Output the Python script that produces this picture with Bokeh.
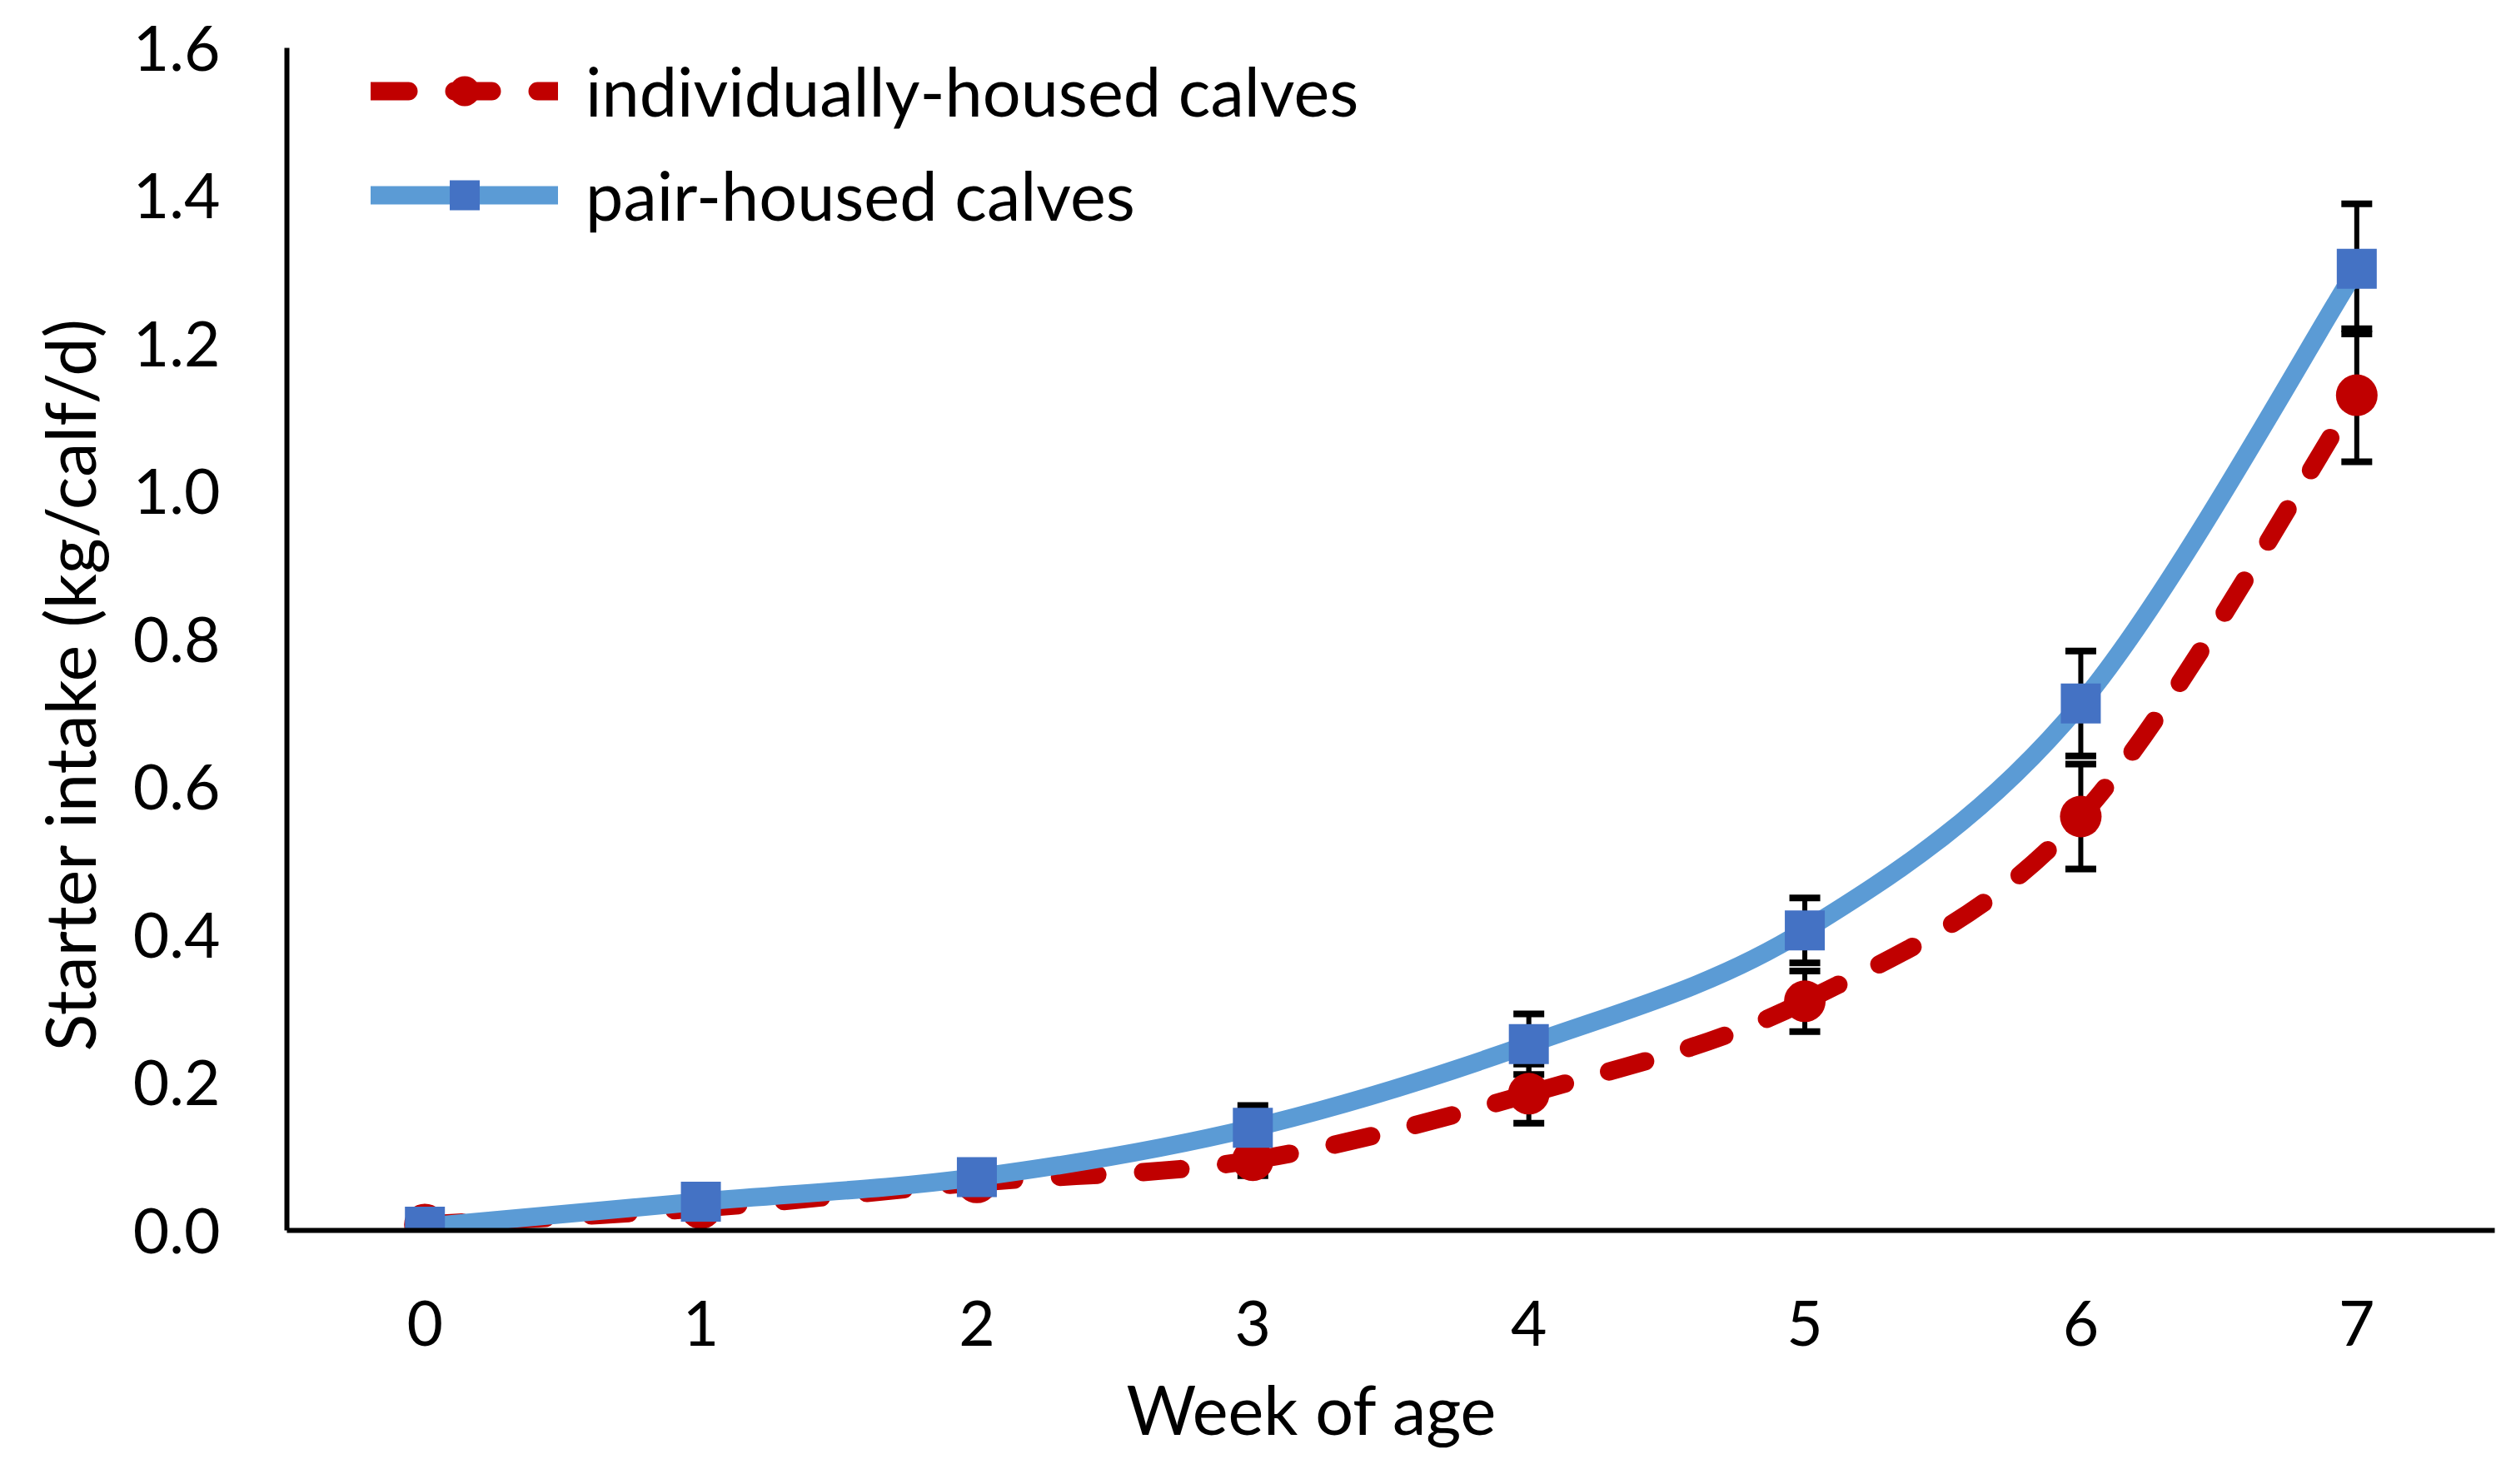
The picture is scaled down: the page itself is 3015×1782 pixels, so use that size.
import numpy as np
from bokeh.plotting import figure
from bokeh.models import (Range1d, FixedTicker, PrintfTickFormatter, Whisker, TeeHead,
                          ColumnDataSource, Legend, LegendItem, Title)
from bokeh.embed import file_html
from bokeh.resources import INLINE

# ---- data ----
weeks = [0, 1, 2, 3, 4, 5, 6, 7]
week_labels = ["0", "1", "2", "3", "4", "5", "6", "7"]
individual = [0.008, 0.030, 0.065, 0.095, 0.185, 0.310, 0.560, 1.130]
individual_se = [0.005, 0.008, 0.010, 0.021, 0.040, 0.041, 0.071, 0.090]
pair = [0.005, 0.039, 0.072, 0.139, 0.252, 0.406, 0.713, 1.301]
pair_se = [0.005, 0.008, 0.010, 0.030, 0.041, 0.044, 0.071, 0.088]
y_ticks = [0.0, 0.2, 0.4, 0.6, 0.8, 1.0, 1.2, 1.4, 1.6]
x_title = "Week of age"
y_title = "Starter intake (kg/calf/d)"
series_names = ["individually-housed calves", "pair-housed calves"]

FONT = "Lato"
RED = "#C00000"
BLUE_LINE = "#5B9BD5"
BLUE_MARK = "#4472C4"


def bezier_source(xs, ys):
    x = np.asarray(xs, dtype=float)
    y = np.asarray(ys, dtype=float)
    xp = np.concatenate([[x[0]], x, [x[-1]]])
    yp = np.concatenate([[y[0]], y, [y[-1]]])
    n = len(x)
    i = np.arange(n - 1)
    cx0 = x[i] + (xp[i + 2] - xp[i]) / 6.0
    cy0 = y[i] + (yp[i + 2] - yp[i]) / 6.0
    cx1 = x[i + 1] - (xp[i + 3] - xp[i + 1]) / 6.0
    cy1 = y[i + 1] - (yp[i + 3] - yp[i + 1]) / 6.0
    return ColumnDataSource(dict(x0=x[:-1], y0=y[:-1], x1=x[1:], y1=y[1:],
                                 cx0=cx0, cy0=cy0, cx1=cx1, cy1=cy1))


p = figure(width=2999, height=1766, output_backend="svg", toolbar_location=None,
           x_range=Range1d(-0.5, 7.5), y_range=Range1d(0, 1.6),
           min_border_left=344, min_border_right=4, min_border_top=57, min_border_bottom=289)
p.outline_line_color = None
p.xgrid.grid_line_color = None
p.ygrid.grid_line_color = None
p.background_fill_color = "white"
p.border_fill_color = "white"

for ax in (p.xaxis[0], p.yaxis[0]):
    ax.axis_line_width = 6
    ax.axis_line_color = "black"
    ax.major_tick_line_color = None
    ax.minor_tick_line_color = None
    ax.major_label_text_font = FONT
    ax.major_label_text_font_size = "75px"
    ax.major_label_text_color = "black"

p.xaxis.ticker = FixedTicker(ticks=weeks)
p.xaxis.major_label_overrides = {w: l for w, l in zip(weeks, week_labels)}
p.xaxis.major_label_standoff = 78

p.yaxis.ticker = FixedTicker(ticks=y_ticks)
p.yaxis.formatter = PrintfTickFormatter(format="%.1f")
p.yaxis.major_label_standoff = 74

# axis titles (the original places them slightly off the plot-area centre)
p.add_layout(Title(text=x_title, align="left", offset=1008, standoff=45,
                   text_font=FONT, text_font_size="81px", text_font_style="normal",
                   text_color="black"), "below")
p.add_layout(Title(text=y_title, align="left", offset=215, standoff=48,
                   text_font=FONT, text_font_size="83px", text_font_style="normal",
                   text_color="black"), "left")

# error bars
for vals, se in ((individual, individual_se), (pair, pair_se)):
    v = np.asarray(vals)
    s = np.asarray(se)
    src = ColumnDataSource(dict(base=weeks, upper=v + s, lower=v - s))
    w = Whisker(source=src, base="base", upper="upper", lower="lower",
                line_color="black", line_width=6,
                upper_head=TeeHead(size=37, line_width=8, line_color="black"),
                lower_head=TeeHead(size=37, line_width=8, line_color="black"))
    p.add_layout(w)

red_line = p.bezier(x0="x0", y0="y0", x1="x1", y1="y1", cx0="cx0", cy0="cy0",
                    cx1="cx1", cy1="cy1", source=bezier_source(weeks, individual),
                    line_color=RED, line_width=22, line_dash="45 55", line_cap="round")
red_pts = p.scatter(weeks, individual, marker="circle", size=50,
                    fill_color=RED, line_color=RED, line_width=0)
blue_line = p.bezier(x0="x0", y0="y0", x1="x1", y1="y1", cx0="cx0", cy0="cy0",
                     cx1="cx1", cy1="cy1", source=bezier_source(weeks, pair),
                     line_color=BLUE_LINE, line_width=22, line_cap="round")
blue_pts = p.scatter(weeks, pair, marker="square", size=48,
                     fill_color=BLUE_MARK, line_color=BLUE_MARK, line_width=0)

legend = Legend(items=[
    LegendItem(label=series_names[0], renderers=[red_line, red_pts]),
    LegendItem(label=series_names[1], renderers=[blue_line, blue_pts]),
], location=(101, 1195))
legend.glyph_width = 225
legend.glyph_height = 90
legend.label_height = 90
legend.spacing = 28
legend.padding = 0
legend.margin = 0
legend.label_standoff = 33
legend.label_text_font = FONT
legend.label_text_font_size = "81px"
legend.label_text_color = "black"
legend.border_line_color = None
legend.background_fill_alpha = 0
p.add_layout(legend)

open("out.html", "w").write(file_html(p, INLINE))
